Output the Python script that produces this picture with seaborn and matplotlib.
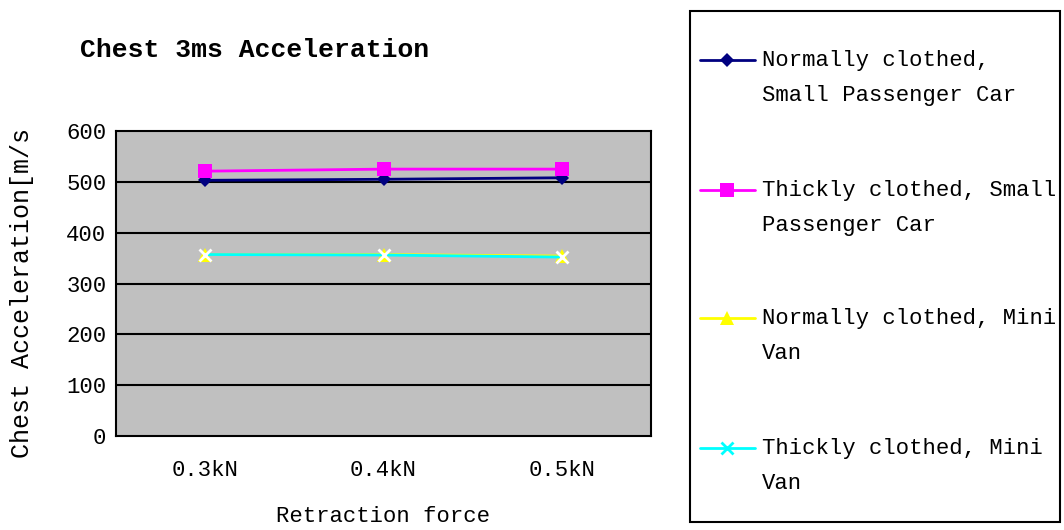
import matplotlib
matplotlib.use("Agg")
import matplotlib.pyplot as plt
from matplotlib.lines import Line2D
from matplotlib.patches import Rectangle
import seaborn as sns
import pandas as pd

# Retraction force settings (x categories)
categories = ["0.3kN", "0.4kN", "0.5kN"]

# Chest 3 ms acceleration [m/s^2] per occupant / vehicle configuration
normal_small_car = [503, 505, 508]
thick_small_car = [521, 525, 525]
normal_mini_van = [357, 357, 354]
thick_mini_van = [357, 356, 352]

series_names = [
    "Normally clothed,\nSmall Passenger Car",
    "Thickly clothed, Small\nPassenger Car",
    "Normally clothed, Mini\nVan",
    "Thickly clothed, Mini\nVan",
]
series_values = [normal_small_car, thick_small_car, normal_mini_van, thick_mini_van]

y_ticks = [0, 100, 200, 300, 400, 500, 600]

rows = []
for name, vals in zip(series_names, series_values):
    for cat, v in zip(categories, vals):
        rows.append({"series": name, "force": cat, "accel": v})
df = pd.DataFrame(rows)

sns.set_theme(style="white")
plt.rcParams["font.family"] = ["Liberation Mono", "DejaVu Sans Mono"]
plt.rcParams["text.color"] = "black"
plt.rcParams["xtick.color"] = "black"
plt.rcParams["ytick.color"] = "black"

W, H = 1064, 530
fig = plt.figure(figsize=(W / 100, H / 100), dpi=100)
fig.patch.set_facecolor("white")

# plot area in pixel coordinates
L, R, T, B = 116, 651, 131, 436
ax = fig.add_axes([L / W, (H - B) / H, (R - L) / W, (B - T) / H])
ax.set_facecolor("#C0C0C0")

styles = [
    dict(color="#000080", marker="D", markersize=7.5, markeredgewidth=0),
    dict(color="#FF00FF", marker="s", markersize=10, markeredgewidth=0),
    dict(color="#FFFF00", marker="^", markersize=10, markeredgewidth=0),
    dict(color="#00FFFF", marker="x", markersize=9, markeredgewidth=2),
]

for name, st in zip(series_names, styles):
    sub = df[df["series"] == name]
    sns.lineplot(data=sub, x="force", y="accel", ax=ax, linewidth=2,
                 legend=False, sort=False, **st)

ax.set_xlim(-0.5, len(categories) - 0.5)
ax.set_ylim(0, 600)
ax.set_yticks(y_ticks)
ax.set_yticklabels([str(t) for t in y_ticks], fontsize=16, color="black")
ax.set_xticks(range(len(categories)))
ax.set_xticklabels(categories, fontsize=16, color="black")
ax.set_xticks([0.5, 1.5], minor=True)
ax.tick_params(axis="x", which="major", length=0, pad=17)
ax.tick_params(axis="x", which="minor", direction="in", length=5.5, width=1.5, color="black")
ax.tick_params(axis="y", which="major", direction="out", length=3, width=1.5, color="black", pad=4)
ax.set_xlabel("")
ax.set_ylabel("")

for yv in y_ticks[1:-1]:
    ax.axhline(yv, color="black", linewidth=1.5, zorder=1)
for sp in ax.spines.values():
    sp.set_visible(True)
    sp.set_color("black")
    sp.set_linewidth(1.5)

# titles and axis labels
fig.text(80 / W, 1 - 50 / H, "Chest 3ms Acceleration", ha="left", va="center",
         fontsize=19, fontweight="bold", color="black")
fig.text(383 / W, 1 - 516 / H, "Retraction force", ha="center", va="center",
         fontsize=16, color="black")
fig.text(22 / W, 1 - 458 / H, "Chest Acceleration[m/s", ha="center", va="bottom",
         rotation=90, fontsize=18, color="black")

# legend panel
LL, LR, LT, LB = 690, 1060, 11, 522
lax = fig.add_axes([LL / W, (H - LB) / H, (LR - LL) / W, (LB - LT) / H])
lax.set_xlim(LL, LR)
lax.set_ylim(LB, LT)
lax.axis("off")
lax.add_patch(Rectangle((LL, LT), LR - LL, LB - LT, fill=False, edgecolor="black",
                        linewidth=1.5, clip_on=False))
entry_y = [60, 190, 318, 448]
for name, st, yy in zip(series_names, styles, entry_y):
    lax.add_line(Line2D([700, 755], [yy, yy], color=st["color"], linewidth=2))
    lax.add_line(Line2D([727], [yy], color=st["color"], marker=st["marker"],
                        markersize=st["markersize"], markeredgewidth=st["markeredgewidth"],
                        linestyle="none"))
    first, second = name.split("\n")
    lax.text(762, yy, first, ha="left", va="center", fontsize=16, color="black", clip_on=True)
    lax.text(762, yy + 35, second, ha="left", va="center", fontsize=16, color="black", clip_on=True)

fig.savefig("out.png", dpi=100, facecolor="white")
